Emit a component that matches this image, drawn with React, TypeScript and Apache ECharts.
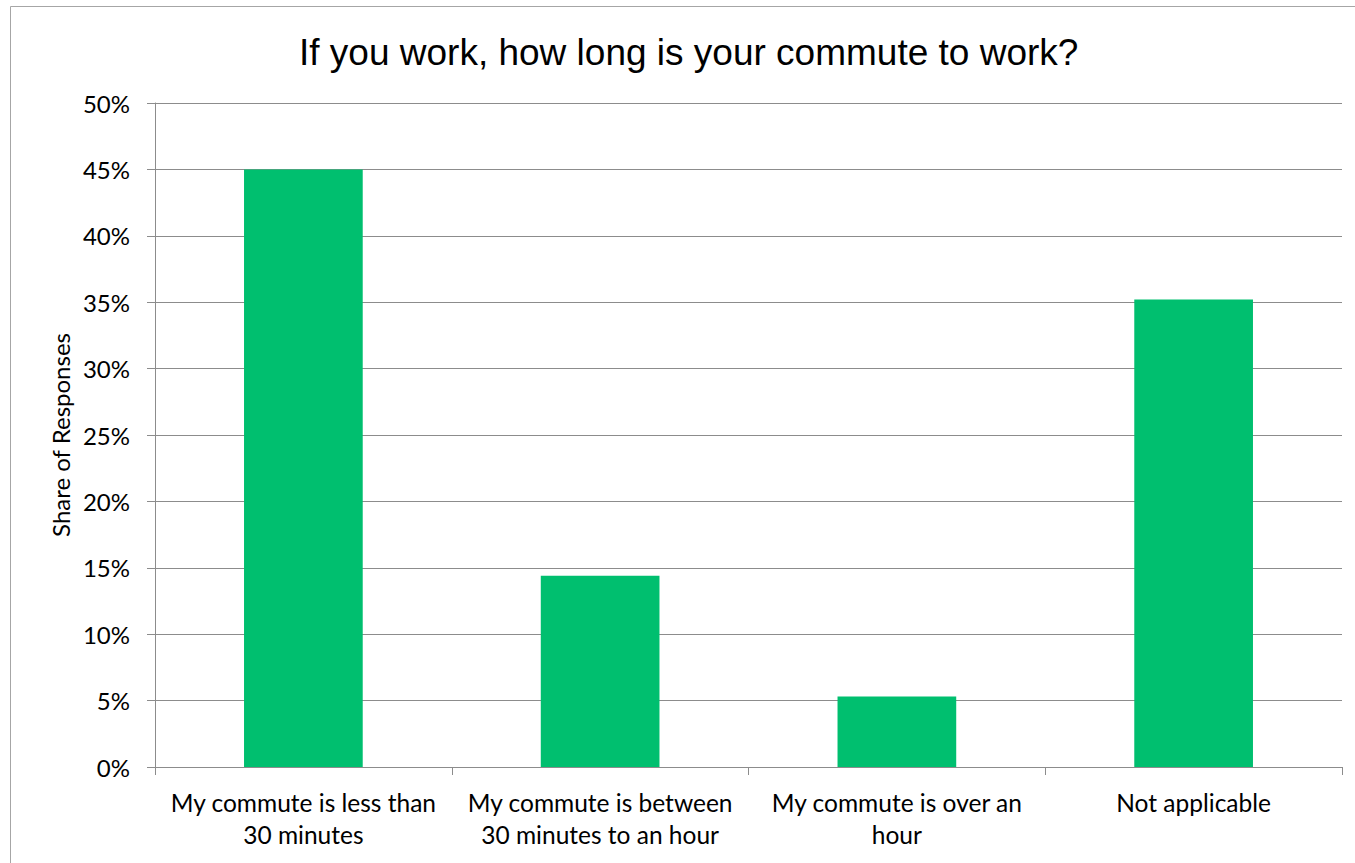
import React, { useEffect, useRef } from "react";
import * as echarts from "echarts";

const categories = [
  "My commute is less than 30 minutes",
  "My commute is between 30 minutes to an hour",
  "My commute is over an hour",
  "Not applicable",
];
const tickLabels = [
  "My commute is less than\n30 minutes",
  "My commute is between\n30 minutes to an hour",
  "My commute is over an\nhour",
  "Not applicable",
];
const shares = [45.0, 14.4, 5.3, 35.2];

export default function App() {
  const ref = useRef<HTMLDivElement>(null);
  useEffect(() => {
    if (!ref.current) return;
    const chart = echarts.init(ref.current, null, { renderer: "svg" });
    const labelFont = "Lato, 'Open Sans', sans-serif";
    chart.setOption({
      animation: false,
      backgroundColor: "#ffffff",
      title: {
        text: "If you work, how long is your commute to work?",
        left: 294,
        top: 29,
        textStyle: {
          fontFamily: "'Liberation Sans', Arial, sans-serif",
          fontSize: 37,
          fontWeight: "normal",
          color: "#000000",
        },
      },
      graphic: [
        {
          type: "rect",
          shape: { x: 10.5, y: 6.5, width: 1400, height: 900 },
          style: { fill: "none", stroke: "#a6a6a6", lineWidth: 1 },
          silent: true,
        },
      ],
      grid: { left: 155, right: 13, top: 103, bottom: 96, containLabel: false },
      xAxis: {
        type: "category",
        data: categories,
        axisLine: { show: true, lineStyle: { color: "#8c8c8c", width: 1 } },
        axisTick: { show: true, alignWithLabel: false, length: 8, lineStyle: { color: "#8c8c8c" } },
        axisLabel: {
          interval: 0,
          margin: 19,
          color: "#000000",
          fontFamily: labelFont,
          fontSize: 24.5,
          lineHeight: 32,
          formatter: (_v: string, i: number) => tickLabels[i],
        },
      },
      yAxis: {
        type: "value",
        min: 0,
        max: 50,
        interval: 5,
        name: "Share of Responses",
        nameLocation: "middle",
        nameGap: 82,
        nameTextStyle: { fontFamily: labelFont, fontSize: 24, color: "#000000" },
        axisLine: { show: true, lineStyle: { color: "#8c8c8c", width: 1 } },
        axisTick: { show: true, length: 8, lineStyle: { color: "#8c8c8c" } },
        axisLabel: {
          margin: 25,
          color: "#000000",
          fontFamily: labelFont,
          fontSize: 24,
          formatter: (v: number) => `${v}%`,
        },
        splitLine: { show: true, lineStyle: { color: "#8c8c8c", width: 1 } },
      },
      series: [
        {
          type: "bar",
          data: shares,
          barCategoryGap: "60%",
          itemStyle: { color: "#00bf6f" },
        },
      ],
    });
    return () => chart.dispose();
  }, []);
  return (
    <div
      ref={ref}
      style={{ position: "fixed", left: 0, top: 0, width: 1355, height: 863 }}
    />
  );
}
